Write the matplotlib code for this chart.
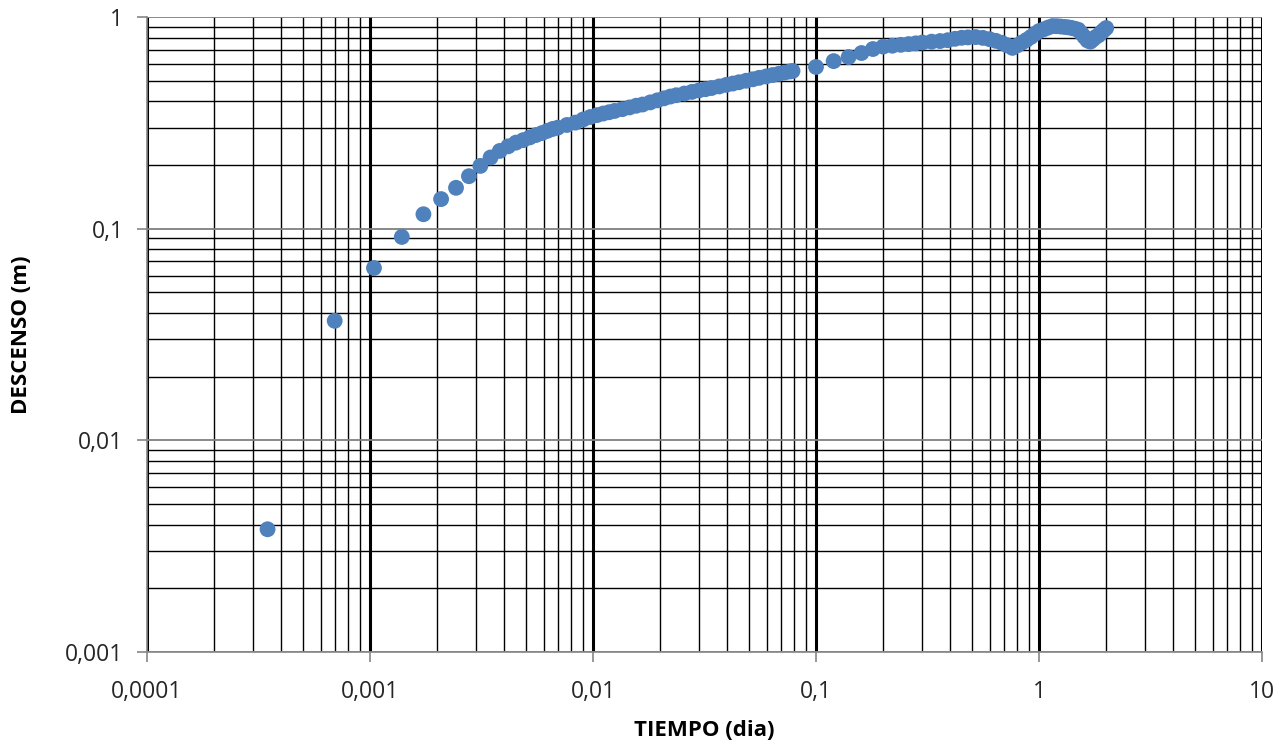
import numpy as np
import matplotlib.pyplot as plt
from matplotlib.ticker import LogLocator, FixedLocator, FuncFormatter, NullFormatter

#pumping test data, time in days and drawdown in meters
#first part, every 30 s (times in minutes)
tiempo_min = [0.5, 1, 1.5, 2, 2.5, 3, 3.5, 4, 4.5,
              5, 5.5, 6, 6.5, 7, 7.5, 8, 8.5, 9, 9.5, 10,
              11, 12, 13, 14, 15, 16, 17, 18, 19.5, 21, 22.5, 24,
              26, 28, 30, 32, 34, 37, 40, 43, 46, 49, 53, 57, 61, 65,
              70, 75, 80, 86, 92, 98, 104, 110, 113]
descenso_1 = [0.0038, 0.0367, 0.0652, 0.0914, 0.117, 0.138, 0.156, 0.177, 0.198,
              0.217, 0.233, 0.245, 0.255, 0.262, 0.270, 0.277, 0.283, 0.290, 0.296, 0.300,
              0.309, 0.317, 0.328, 0.337, 0.344, 0.350, 0.355, 0.360, 0.367, 0.374, 0.381, 0.386,
              0.395, 0.404, 0.413, 0.421, 0.427, 0.435, 0.443, 0.450, 0.456, 0.462, 0.470, 0.478, 0.485, 0.492,
              0.500, 0.508, 0.516, 0.524, 0.532, 0.539, 0.546, 0.553, 0.556]

#second part, already in days
tiempo_dia_2 = [0.10, 0.12, 0.14, 0.16, 0.18,
                0.20, 0.22, 0.24, 0.26, 0.28, 0.30, 0.33, 0.36, 0.39, 0.42, 0.45, 0.48,
                0.52, 0.56, 0.60, 0.64, 0.68, 0.72, 0.76, 0.80, 0.84, 0.88, 0.92, 0.96,
                1.00, 1.05, 1.10, 1.15, 1.20, 1.25, 1.30, 1.35, 1.40, 1.45, 1.50, 1.55,
                1.60, 1.65, 1.70, 1.75, 1.80, 1.85, 1.90, 1.95, 2.00]
descenso_2 = [0.581, 0.619, 0.647, 0.676, 0.706,
              0.725, 0.732, 0.739, 0.745, 0.751, 0.758, 0.765, 0.770, 0.777, 0.789, 0.798, 0.801,
              0.804, 0.797, 0.786, 0.772, 0.756, 0.735, 0.715, 0.735, 0.758, 0.780, 0.805, 0.833,
              0.858, 0.875, 0.892, 0.906, 0.905, 0.902, 0.898, 0.894, 0.888, 0.880, 0.871, 0.838,
              0.805, 0.775, 0.765, 0.785, 0.806, 0.820, 0.845, 0.866, 0.887]

tiempo = np.concatenate([np.array(tiempo_min) / 1440.0, tiempo_dia_2])
descenso = np.concatenate([descenso_1, descenso_2])

plt.rcParams['font.family'] = ['Open Sans', 'DejaVu Sans']

fig = plt.figure(figsize=(12.85, 7.47), dpi=100)
ax = fig.add_axes([0.1144, 0.1272, 0.8677, 0.85])

ax.set_xscale("log")
ax.set_yscale("log")
ax.set_xlim(1e-4, 10)
ax.set_ylim(1e-3, 1)

#grid like the excel chart: black minor lines, thick black x majors, gray y majors
ax.xaxis.set_major_locator(FixedLocator([1e-4, 1e-3, 1e-2, 1e-1, 1, 10]))
ax.yaxis.set_major_locator(FixedLocator([1e-3, 1e-2, 1e-1, 1]))
ax.xaxis.set_minor_locator(LogLocator(base=10, subs=np.arange(2, 10), numticks=20))
ax.yaxis.set_minor_locator(LogLocator(base=10, subs=np.arange(2, 10), numticks=20))
ax.xaxis.set_minor_formatter(NullFormatter())
ax.yaxis.set_minor_formatter(NullFormatter())

def coma(v, pos):
    s = ("%f" % v).rstrip("0").rstrip(".")
    return s.replace(".", ",")

ax.xaxis.set_major_formatter(FuncFormatter(coma))
ax.yaxis.set_major_formatter(FuncFormatter(coma))

ax.grid(which="minor", axis="both", color="black", linewidth=1.0)
ax.grid(which="major", axis="x", color="black", linewidth=2.2)
ax.grid(which="major", axis="y", color="#7f7f7f", linewidth=1.3)
ax.set_axisbelow(True)

ax.scatter(tiempo, descenso, s=130, color="#4f81bd", edgecolors="none", zorder=3)

for side in ["top", "right"]:
    ax.spines[side].set_visible(False)
for side in ["left", "bottom"]:
    ax.spines[side].set_color("#868686")
    ax.spines[side].set_linewidth(1.2)

ax.tick_params(which="major", direction="out", length=7, width=1.2, color="#868686",
               labelsize=16.5, labelcolor="#262626", pad=10)
ax.tick_params(axis="x", which="major", pad=13)
ax.tick_params(which="minor", length=0)

ax.set_xlabel("TIEMPO (dia)", fontsize=16, fontweight="bold", labelpad=12)
ax.set_ylabel("DESCENSO (m)", fontsize=16, fontweight="bold", labelpad=24)

plt.savefig("out.png", dpi=100)
